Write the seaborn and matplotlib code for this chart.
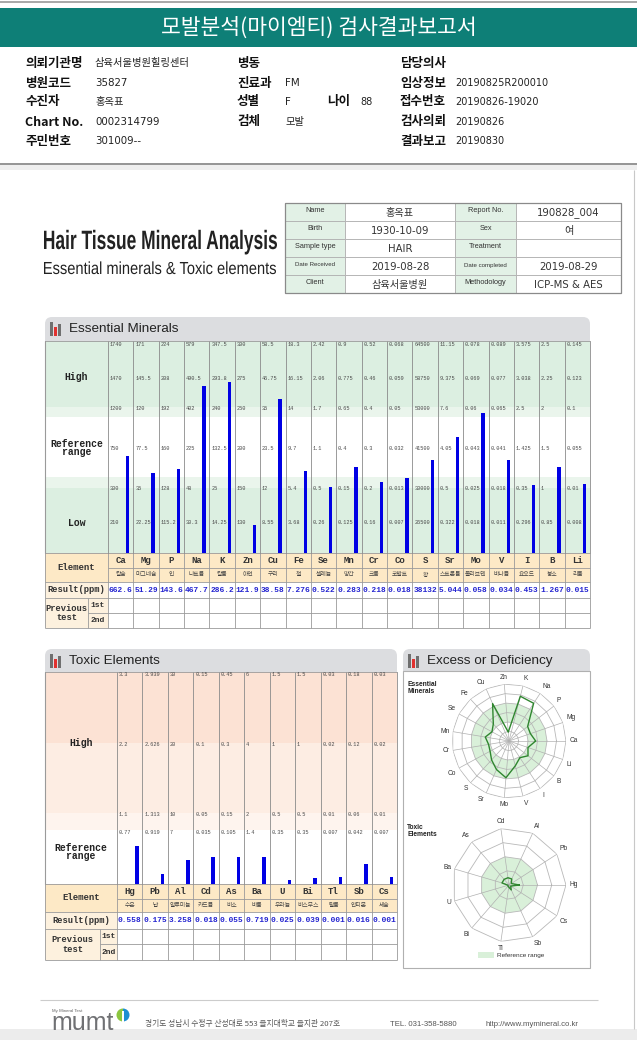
import numpy as np
import pandas as pd
import matplotlib
matplotlib.use('Agg')
import matplotlib.pyplot as plt
import seaborn as sns
from matplotlib.patches import Rectangle, FancyBboxPatch, PathPatch, Wedge
from matplotlib.textpath import TextPath
from matplotlib.font_manager import FontProperties
from matplotlib.transforms import Affine2D

sns.set_theme(style='white')
plt.rcParams['font.family'] = ['Noto Sans CJK KR', 'DejaVu Sans']

W, H = 637, 1040
MONO = ['Liberation Mono', 'Noto Sans CJK KR']
VAL = ['DejaVu Sans', 'Noto Sans CJK KR']
SANS = ['Liberation Sans', 'Noto Sans CJK KR']

# 헤더
title = '모발분석(마이엠티) 검사결과보고서'
hdr_lab1 = ['의뢰기관명', '병원코드', '수진자', 'Chart No.', '주민번호']
hdr_val1 = ['삼육서울병원힐링센터', '35827', '홍옥표', '0002314799', '301009--']
hdr_lab2 = ['병동', '진료과', '성별', '검체', '']
hdr_val2 = ['', 'FM', 'F', '모발', '']
hdr_lab3 = ['담당의사', '임상정보', '접수번호', '검사의뢰', '결과보고']
hdr_val3 = ['', '20190825R200010', '20190826-19020', '20190826', '20190830']
age = '88'

info_lab1 = ['Name', 'Birth', 'Sample type', 'Date Received', 'Client']
info_val1 = ['홍옥표', '1930-10-09', 'HAIR', '2019-08-28', '삼육서울병원']
info_lab2 = ['Report No.', 'Sex', 'Treatment', 'Date completed', 'Methodology']
info_val2 = ['190828_004', '여', '', '2019-08-29', 'ICP-MS & AES']

# 필수 미네랄
ess_el = ['Ca', 'Mg', 'P', 'Na', 'K', 'Zn', 'Cu', 'Fe', 'Se', 'Mn', 'Cr', 'Co', 'S', 'Sr', 'Mo', 'V', 'I', 'B', 'Li']
ess_kr = ['칼슘', '마그네슘', '인', '나트륨', '칼륨', '아연', '구리', '철', '셀레늄', '망간', '크롬', '코발트', '황',
          '스트론튬', '몰리브덴', '바나듐', '요오드', '붕소', '리튬']
ess_res = [662.6, 51.29, 143.6, 467.7, 286.2, 121.9, 38.58, 7.276, 0.522, 0.283, 0.218, 0.018, 38132,
           5.044, 0.058, 0.034, 0.453, 1.267, 0.015]
ess_row1 = [210, 22.25, 115.2, 30.3, 14.25, 130, 8.55, 3.68, 0.26, 0.125, 0.16, 0.007, 26500, 0.322, 0.018, 0.011, 0.296, 0.85, 0.008]
ess_row2 = [300, 35, 128, 48, 25, 150, 12, 5.4, 0.5, 0.15, 0.2, 0.013, 30000, 0.5, 0.025, 0.018, 0.35, 1, 0.01]
ess_row3 = [750, 77.5, 160, 225, 132.5, 200, 23.5, 9.7, 1.1, 0.4, 0.3, 0.032, 41500, 4.05, 0.043, 0.041, 1.425, 1.5, 0.055]
ess_row4 = [1200, 120, 192, 402, 240, 250, 35, 14, 1.7, 0.65, 0.4, 0.05, 53000, 7.6, 0.06, 0.065, 2.5, 2, 0.1]
ess_row5 = [1470, 145.5, 208, 490.5, 293.8, 275, 46.75, 16.15, 2.06, 0.775, 0.46, 0.059, 58750, 9.375, 0.069, 0.077, 3.038, 2.25, 0.123]
ess_row6 = [1740, 171, 224, 579, 347.5, 300, 58.5, 18.3, 2.42, 0.9, 0.52, 0.068, 64500, 11.15, 0.078, 0.089, 3.575, 2.5, 0.145]

# 유해 미네랄
tox_el = ['Hg', 'Pb', 'Al', 'Cd', 'As', 'Ba', 'U', 'Bi', 'Tl', 'Sb', 'Cs']
tox_kr = ['수은', '납', '알루미늄', '카드뮴', '비소', '바륨', '우라늄', '비스무스', '탈륨', '안티몬', '세슘']
tox_res = [0.558, 0.175, 3.258, 0.018, 0.055, 0.719, 0.025, 0.039, 0.001, 0.016, 0.001]
tox_row1 = [0.77, 0.919, 7, 0.035, 0.105, 1.4, 0.35, 0.35, 0.007, 0.042, 0.007]
tox_row2 = [1.1, 1.313, 10, 0.05, 0.15, 2, 0.5, 0.5, 0.01, 0.06, 0.01]
tox_row3 = [2.2, 2.626, 20, 0.1, 0.3, 4, 1, 1, 0.02, 0.12, 0.02]
tox_row4 = [3.3, 3.939, 30, 0.15, 0.45, 6, 1.5, 1.5, 0.03, 0.18, 0.03]

footer_addr = '경기도 성남시 수정구 산성대로 553 을지대학교 을지관 207호'
footer_tel = 'TEL. 031-358-5880'
footer_url = 'http://www.mymineral.co.kr'

OFF = 0.78   # 막대가 칸 안에서 오른쪽에 위치

fig = plt.figure(figsize=(W / 100, H / 100), dpi=100)
bg = fig.add_axes([0, 0, 1, 1])
bg.set_xlim(0, W)
bg.set_ylim(H, 0)
bg.axis('off')


def add_ax(x0, y0, x1, y1, **kw):
    return fig.add_axes([x0 / W, 1 - y1 / H, (x1 - x0) / W, (y1 - y0) / H], **kw)


def rect(x0, y0, x1, y1, fc, ec='none', lw=0, z=1):
    bg.add_patch(Rectangle((x0, y0), x1 - x0, y1 - y0, fc=fc, ec=ec, lw=lw, zorder=z))


def hline(y, x0, x1, c='#9a9a9a', lw=0.6):
    bg.plot([x0, x1], [y, y], color=c, lw=lw, zorder=3, solid_capstyle='butt')


def vline(x, y0, y1, c='#9a9a9a', lw=0.6):
    bg.plot([x, x], [y0, y1], color=c, lw=lw, zorder=3, solid_capstyle='butt')


def txt(x, y, s, size, ha='left', va='center', **kw):
    bg.text(x, y, s, fontsize=size, ha=ha, va=va, zorder=4, **kw)


def squeeze(x, y, s, cap, width, weight='normal', color='#222222'):
    fp = FontProperties(family='Liberation Sans', weight=weight)
    tp = TextPath((0, 0), s, size=cap / 0.716, prop=fp)
    ext = tp.get_extents()
    sx = width / ext.width
    tr = Affine2D().translate(-ext.x0, 0).scale(sx, -1).translate(x, y) + bg.transData
    bg.add_patch(PathPatch(tp, transform=tr, fc=color, lw=0, zorder=4))


def fmt(v):
    return f'{v:g}'


def tab(x0, x1, y0, label):
    bg.add_patch(FancyBboxPatch((x0, y0), x1 - x0, 30, boxstyle='round,pad=0,rounding_size=7',
                                fc='#dcdde0', ec='none', zorder=1))
    rect(x0 + 5, y0 + 5, x0 + 7.5, y0 + 19, '#6f6f6f', z=2)
    rect(x0 + 9, y0 + 10, x0 + 11.5, y0 + 19, '#e0312f', z=2)
    rect(x0 + 13, y0 + 7, x0 + 15.5, y0 + 19, '#6f6f6f', z=2)
    txt(x0 + 24, y0 + 12, label, 9.7, family=SANS, color='#222222')


def bar_panel(x0, lab_x1, x1, y0, y1, names, res, rows, lv_px, bands, row_labels, bar_w):
    n = len(names)
    cw = (x1 - lab_x1) / n
    lab_w = (lab_x1 - x0) / cw
    ax = add_ax(x0, y0, x1, y1)
    levels = np.array(rows)
    h = [np.interp(v, np.r_[0, levels[:, i]], lv_px) for i, v in enumerate(res)]
    df = pd.DataFrame({'element': names, 'h': h})
    sns.barplot(data=df, x='element', y='h', order=names, color='#0000e4', saturation=1,
                width=bar_w / cw, linewidth=0, ax=ax, zorder=3)
    for lo, hi, c in bands:
        ax.axhspan(lo, hi, color=c, zorder=0, lw=0)
    left = -OFF - lab_w
    for k in range(n + 1):
        ax.axvline(k - OFF, color='#8a8a8a', lw=0.6, zorder=1, clip_on=False)
    ax.axvline(left, color='#9a9a9a', lw=0.8, zorder=1, clip_on=False)
    ax.axhline(y1 - y0, color='#9a9a9a', lw=0.6, zorder=1, clip_on=False)
    for i in range(n):
        for j in range(levels.shape[0]):
            ax.text(i - OFF + 0.07, lv_px[j + 1], fmt(levels[j, i]), fontsize=3.8, family=MONO,
                    ha='left', va='center', color='#4a4a4a', zorder=2)
    for yl, s in row_labels:
        ax.text(left + lab_w / 2, yl, s, fontsize=7, family=MONO, weight='bold', ha='center',
                va='center', color='#222222', linespacing=0.85)
    ax.set_xlim(left, n - OFF)
    ax.set_ylim(0, y1 - y0)
    ax.axis('off')


def data_table(x0, lab_x1, split_x, x1, ys, names, kr, res):
    n = len(names)
    cw = (x1 - lab_x1) / n
    rect(x0, ys[0], x1, ys[2], '#fde9c6')
    rect(x0, ys[2], lab_x1, ys[5], '#fdf1de')
    for y in [ys[0], ys[2], ys[3], ys[5]]:
        hline(y, x0, x1)
    hline(ys[1], lab_x1, x1)
    hline(ys[4], split_x, x1)
    vline(x0, ys[0], ys[5])
    vline(split_x, ys[3], ys[5])
    for k in range(n + 1):
        vline(lab_x1 + k * cw, ys[0], ys[5])
    cx = (x0 + lab_x1) / 2
    txt(cx, (ys[0] + ys[2]) / 2, 'Element', 6.5, ha='center', family=MONO, weight='bold', color='#333333')
    txt(cx, (ys[2] + ys[3]) / 2, 'Result(ppm)', 6.3, ha='center', family=MONO, weight='bold', color='#333333')
    txt((x0 + split_x) / 2, (ys[3] + ys[5]) / 2, 'Previous\ntest', 6.3, ha='center', family=MONO,
        weight='bold', color='#333333', linespacing=1.0)
    txt((split_x + lab_x1) / 2, (ys[3] + ys[4]) / 2, '1st', 5.8, ha='center', family=MONO, weight='bold', color='#333333')
    txt((split_x + lab_x1) / 2, (ys[4] + ys[5]) / 2, '2nd', 5.8, ha='center', family=MONO, weight='bold', color='#333333')
    for i in range(n):
        xc = lab_x1 + (i + 0.5) * cw
        txt(xc, (ys[0] + ys[1]) / 2, names[i], 6.5, ha='center', family=MONO, weight='bold', color='#333333')
        txt(xc, (ys[1] + ys[2]) / 2, kr[i], 4.2, ha='center', color='#444444')
        txt(xc, (ys[2] + ys[3]) / 2 + 0.5, fmt(res[i]), 5.7, ha='center', family=MONO, weight='bold', color='#2323d0')


def radar(cx, cy, R, names, res, rows, ref_lo, ref_hi):
    n = len(names)
    levels = np.array(rows)
    nring = levels.shape[0]
    ax = add_ax(cx - R, cy - R, cx + R, cy + R, projection='polar')
    ax.set_theta_zero_location('E')
    th = np.arange(n) * 2 * np.pi / n
    thc = np.r_[th, th[:1]]
    ones = np.ones(n + 1)
    if ref_lo > 0:
        ax.fill(np.r_[thc, thc[::-1]], np.r_[ones * ref_hi, ones * ref_lo], color='#d9f0d9', lw=0, zorder=1)
    else:
        ax.fill(thc, ones * ref_hi, color='#d9f0d9', lw=0, zorder=1)
    for k in range(1, nring + 1):
        ax.plot(thc, ones * k, color='#b8b8b8', lw=0.6, zorder=2)
    for t in th:
        ax.plot([t, t], [0, nring], color='#b0b0b0', lw=0.5, zorder=2)
    r = [np.interp(v, np.r_[0, levels[:, i]], np.arange(nring + 1)) for i, v in enumerate(res)]
    ax.plot(thc, np.r_[r, r[:1]], color='#2f862f', lw=1.0, zorder=3)
    for t, nm in zip(th, names):
        c, s = np.cos(t), np.sin(t)
        ha = 'left' if c > 0.2 else ('right' if c < -0.2 else 'center')
        va = 'bottom' if s > 0.3 else ('top' if s < -0.3 else 'center')
        ax.text(t, nring * 1.06, nm, fontsize=4.8, family=SANS, color='#333333', ha=ha, va=va)
    ax.set_ylim(0, nring)
    ax.axis('off')


# ---- 헤더
bg.plot([0, W], [1.5, 1.5], color='#9a9a9a', lw=1.2)
rect(0, 8, W, 47, '#0e7f77')
txt(W / 2, 28, title, 15.5, ha='center', color='white')
rows_y = [63, 83, 102, 122, 141]
for i, y in enumerate(rows_y):
    txt(25, y, hdr_lab1[i], 9, weight='bold', color='#111111')
    txt(95, y, hdr_val1[i], 7.4, family=VAL, color='#222222')
    txt(237, y, hdr_lab2[i], 9, weight='bold', color='#111111')
    txt(285, y, hdr_val2[i], 7.4, family=VAL, color='#222222')
    txt(400, y, hdr_lab3[i], 9, weight='bold', color='#111111')
    txt(455, y, hdr_val3[i], 7, family=VAL, color='#222222')
txt(327, rows_y[2], '나이', 9, weight='bold', color='#111111')
txt(360, rows_y[2], age, 7, family=VAL, color='#222222')
hline(163.5, 0, W, '#8c8c8c', 1.3)
rect(0, 164.5, W, 170, '#efefef')
vline(633.5, 170, 1029, '#c8c8c8', 0.8)

# ---- 제목 및 정보표
squeeze(44, 249, 'Hair Tissue Mineral Analysis', 19, 233, weight='bold')
squeeze(44, 274, 'Essential minerals & Toxic elements', 12.5, 232)
cols = [285, 345, 455, 516, 621]
ry = [203 + 18 * i for i in range(6)]
for i in range(5):
    rect(cols[0], ry[i], cols[1], ry[i + 1], '#e2f1e6', '#b0b0b0', 0.6)
    rect(cols[1], ry[i], cols[2], ry[i + 1], 'white', '#b0b0b0', 0.6)
    rect(cols[2], ry[i], cols[3], ry[i + 1], '#e2f1e6', '#b0b0b0', 0.6)
    rect(cols[3], ry[i], cols[4], ry[i + 1], 'white', '#b0b0b0', 0.6)
    ym = (ry[i] + ry[i + 1]) / 2
    sz1 = 4.4 if len(info_lab1[i]) > 11 else 5.3
    sz2 = 4.4 if len(info_lab2[i]) > 11 else 5.3
    txt((cols[0] + cols[1]) / 2, ym - 1, info_lab1[i], sz1, ha='center', family=SANS, color='#333333')
    txt((cols[1] + cols[2]) / 2, ym + 1, info_val1[i], 7.3, ha='center', family=VAL, color='#333333')
    txt((cols[2] + cols[3]) / 2, ym - 1, info_lab2[i], sz2, ha='center', family=SANS, color='#333333')
    txt((cols[3] + cols[4]) / 2, ym + 1, info_val2[i], 7.3, ha='center', family=VAL, color='#333333')
rect(cols[0], ry[0], cols[4], ry[5], 'none', '#8a8a8a', 0.9, z=2)

# ---- Essential Minerals
tab(45, 590, 317, 'Essential Minerals')
ess_bands = [(0, 65, '#dcefe1'), (65, 76, '#eaf5ec'), (76, 136, 'white'),
             (136, 146, '#eaf5ec'), (146, 212, '#dcefe1')]
bar_panel(45, 108, 590, 341, 553, ess_el, ess_res,
          [ess_row1, ess_row2, ess_row3, ess_row4, ess_row5, ess_row6],
          [0, 30, 64, 105, 145, 175, 209], ess_bands,
          [(176, 'High'), (105, 'Reference\nrange'), (30, 'Low')], 3.4)
data_table(45, 108, 88, 590, [553, 568, 582, 598, 613, 628], ess_el, ess_kr, ess_res)

# ---- Toxic Elements
tab(45, 397, 649, 'Toxic Elements')
tox_bands = [(0, 54, 'white'), (54, 71, '#fef4ee'), (71, 141, '#fdede3'), (141, 212, '#fce2d4')]
bar_panel(45, 117, 397, 672, 884, tox_el, tox_res,
          [tox_row1, tox_row2, tox_row3, tox_row4],
          [0, 52, 69, 139, 209], tox_bands,
          [(141, 'High'), (32, 'Reference\nrange')], 3.6)
data_table(45, 117, 100, 397, [884, 899, 912, 929, 944, 960], tox_el, tox_kr, tox_res)

# ---- Excess or Deficiency
tab(403, 590, 649, 'Excess or Deficiency')
rect(403, 671, 590, 968, 'white', '#b0b0b0', 0.8, z=2)
txt(407, 688, 'Essential\nMinerals', 4.8, family=SANS, weight='bold', color='#222222', linespacing=1.0)
txt(407, 831, 'Toxic\nElements', 4.8, family=SANS, weight='bold', color='#222222', linespacing=1.0)
rect(478, 952, 494, 958, '#d9f0d9', z=3)
txt(497, 955, 'Reference range', 4.6, family=SANS, color='#333333')

radar(509, 741, 57, ess_el, ess_res,
      [ess_row1, ess_row2, ess_row3, ess_row4, ess_row5, ess_row6], 2, 4)
radar(509, 885, 57, tox_el, tox_res, [tox_row1, tox_row2, tox_row3, tox_row4], 0, 2)

# ---- 하단
hline(1000, 40, 598, '#cccccc', 0.8)
txt(52, 1011, 'My Mineral Test', 3.2, family=SANS, color='#666666')
txt(51, 1023, 'mumt', 18, family=SANS, color='#707174')
bg.add_patch(Wedge((123, 1015), 6.5, 90, 270, fc='#8cc63f', ec='none', zorder=4))
bg.add_patch(Wedge((123, 1015), 6.5, -90, 90, fc='#1d8fd3', ec='none', zorder=4))
rect(122, 1011, 124, 1022, 'white', z=5)
txt(145, 1024, footer_addr, 5.6, color='#555555')
txt(390, 1024, footer_tel, 5.6, family=SANS, color='#555555')
txt(485, 1024, footer_url, 5.6, family=SANS, color='#555555')
rect(0, 1029, W, H, '#ececec')

fig.savefig('out.png', dpi=100)
